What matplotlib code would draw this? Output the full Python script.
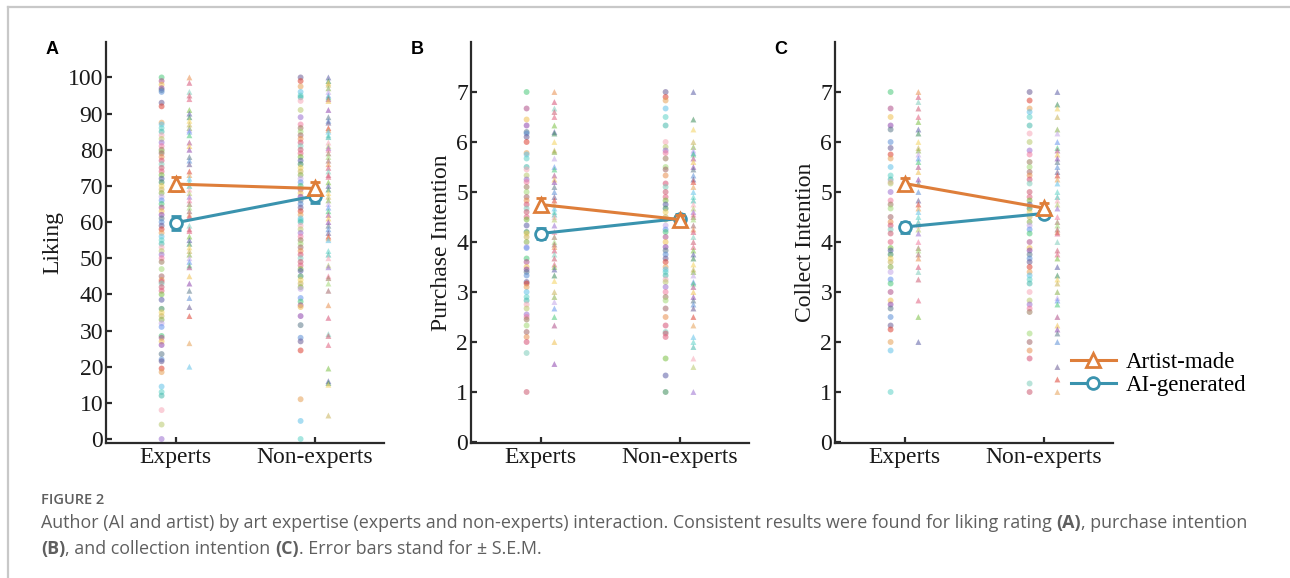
import matplotlib
matplotlib.use("Agg")
import matplotlib.pyplot as plt
from matplotlib.lines import Line2D

# ---- data ---------------------------------------------------------------
groups = ["Experts", "Non-experts"]

# panel A: liking (0-100)
liking_ai_exp = [100, 99, 98, 97, 96.5, 96, 93, 92, 87.5, 87, 86, 85, 84, 83, 82, 81, 80, 79.5,
                 79, 78, 77, 76, 75, 74, 73, 72, 71, 70, 69, 68, 67, 66, 65, 64, 63, 62, 61, 60,
                 59, 58, 57, 56, 55, 54, 53, 52, 51, 50, 49, 47, 45, 44, 43.5, 43, 42, 41, 40,
                 38.5, 36, 35, 34, 33, 32, 31, 28.5, 28, 27, 26, 23.5, 22, 21.5, 19.5, 18.5,
                 14.5, 13, 12, 8, 4, 0]
liking_art_exp = [100, 98.5, 96, 95, 94, 91, 90, 89, 88, 87, 86, 85.5, 85, 84, 82, 81, 80, 78,
                  77, 76, 74, 73, 72, 71, 70, 69, 68, 67, 66, 65, 64, 63, 62, 61.5, 59, 58, 57.5,
                  56, 55, 54, 53, 52, 51, 50, 49, 48, 47.5, 45, 43, 41, 39, 36.5, 34, 26.5, 20]
liking_ai_non = [100, 99, 97.5, 96, 95, 94.5, 93.5, 91, 89, 87, 86, 85, 84, 83, 82, 81, 80, 79,
                 78, 77, 76, 75, 74, 73, 72, 71, 70, 69, 68, 67, 66, 65, 64, 63, 62, 61, 60.5, 60,
                 59, 58, 57, 56, 55, 54, 53, 52, 51, 50, 49, 48, 47, 46.5, 45, 44, 43, 42, 41.5,
                 39, 38, 37, 36.5, 34, 31.5, 28, 27, 24.5, 11, 5, 0]
liking_art_non = [100, 99, 98.5, 98, 97, 96, 95, 94.5, 94, 93.5, 91, 89, 88, 87.5, 86, 85.5, 85,
                  84, 83.5, 82, 81, 80.5, 80, 79, 78, 77, 76, 75, 74, 73, 72.5, 71, 70, 69, 68,
                  67, 66, 65, 64, 63, 62, 61, 60, 59, 58, 57, 56, 55.5, 55, 52, 51, 50, 48, 47.5,
                  45, 44.5, 43, 41, 37, 33.5, 29, 28.5, 26, 19.5, 16, 15.5, 15, 6.5]

# panel B: purchase intention (1-7)
purch_ai_exp = [7, 6.67, 6.45, 6.33, 6.2, 6.17, 6.1, 6.0, 5.78, 5.75, 5.67, 5.5, 5.45, 5.33, 5.25,
                5.2, 5.1, 5.0, 4.9, 4.83, 4.75, 4.67, 4.6, 4.5, 4.45, 4.33, 4.2, 4.17, 4.1, 4.0,
                3.9, 3.88, 3.67, 3.6, 3.5, 3.45, 3.4, 3.33, 3.2, 3.17, 3.1, 3.0, 2.9, 2.83, 2.75,
                2.67, 2.55, 2.5, 2.45, 2.33, 2.2, 2.1, 2.0, 1.78, 1.0]
purch_art_exp = [7, 6.8, 6.67, 6.6, 6.5, 6.33, 6.2, 6.17, 6.0, 5.83, 5.8, 5.67, 5.5, 5.45, 5.33,
                 5.25, 5.2, 5.1, 5.0, 4.9, 4.83, 4.75, 4.67, 4.6, 4.55, 4.5, 4.45, 4.33, 4.2, 4.1,
                 4.0, 3.95, 3.9, 3.83, 3.75, 3.67, 3.55, 3.5, 3.45, 3.33, 3.22, 3.0, 2.9, 2.8,
                 2.67, 2.5, 2.33, 2.0, 1.56]
purch_ai_non = [7, 6.9, 6.83, 6.67, 6.5, 6.33, 6.0, 5.9, 5.83, 5.78, 5.67, 5.5, 5.45, 5.33, 5.17,
                5.1, 5.0, 4.9, 4.83, 4.75, 4.67, 4.6, 4.5, 4.45, 4.33, 4.25, 4.2, 4.1, 4.0, 3.9,
                3.83, 3.75, 3.67, 3.6, 3.5, 3.45, 3.4, 3.33, 3.25, 3.2, 3.1, 3.0, 2.9, 2.83, 2.67,
                2.5, 2.33, 2.2, 2.17, 2.1, 1.67, 1.33, 1.0]
purch_art_non = [7, 6.45, 6.25, 6.0, 5.9, 5.83, 5.78, 5.75, 5.67, 5.6, 5.5, 5.45, 5.33, 5.25, 5.2,
                 5.1, 5.0, 4.9, 4.83, 4.75, 4.67, 4.6, 4.55, 4.5, 4.45, 4.33, 4.25, 4.2, 4.1, 4.0,
                 3.9, 3.83, 3.75, 3.67, 3.55, 3.45, 3.4, 3.33, 3.2, 3.17, 3.1, 3.0, 2.9, 2.83,
                 2.75, 2.67, 2.5, 2.33, 2.1, 2.0, 1.9, 1.67, 1.5, 1.0]

# panel C: collect intention (1-7)
coll_ai_exp = [7, 6.67, 6.5, 6.33, 6.25, 6.0, 5.88, 5.75, 5.67, 5.5, 5.33, 5.25, 5.2, 5.17, 5.0,
               4.83, 4.75, 4.67, 4.5, 4.4, 4.33, 4.25, 4.17, 4.0, 3.88, 3.83, 3.75, 3.67, 3.6,
               3.5, 3.4, 3.25, 3.17, 3.0, 2.83, 2.75, 2.67, 2.5, 2.33, 2.25, 2.0, 1.83, 1.0]
coll_art_exp = [7, 6.9, 6.8, 6.67, 6.5, 6.4, 6.25, 6.17, 6.0, 5.88, 5.83, 5.75, 5.67, 5.6, 5.5,
                5.4, 5.25, 5.17, 5.0, 4.83, 4.75, 4.67, 4.6, 4.5, 4.4, 4.33, 4.25, 4.17, 4.0,
                3.88, 3.83, 3.75, 3.67, 3.5, 3.4, 3.25, 2.83, 2.5, 2.0]
coll_ai_non = [7, 6.83, 6.67, 6.6, 6.5, 6.33, 6.17, 6.0, 5.83, 5.75, 5.6, 5.5, 5.4, 5.33, 5.25,
               5.17, 5.0, 4.9, 4.83, 4.75, 4.67, 4.6, 4.5, 4.4, 4.33, 4.25, 4.17, 4.0, 3.88,
               3.83, 3.75, 3.67, 3.6, 3.5, 3.4, 3.33, 3.25, 3.17, 3.0, 2.83, 2.75, 2.67, 2.6,
               2.17, 2.0, 1.83, 1.67, 1.17, 1.0]
coll_art_non = [7, 6.75, 6.67, 6.5, 6.25, 6.17, 6.0, 5.88, 5.83, 5.75, 5.67, 5.6, 5.5, 5.4, 5.33,
                5.25, 5.17, 5.0, 4.9, 4.83, 4.75, 4.67, 4.5, 4.4, 4.33, 4.25, 4.2, 4.17, 4.0,
                3.83, 3.75, 3.67, 3.5, 3.33, 3.25, 3.17, 3.0, 2.88, 2.83, 2.75, 2.5, 2.33, 2.25,
                2.17, 2.0, 1.5, 1.25, 1.0]

# group means and S.E.M. (experts, non-experts)
liking_art_mean, liking_art_sem = [70.5, 69.3], [2.0, 1.8]
liking_ai_mean, liking_ai_sem = [59.8, 67.2], [2.0, 1.8]
purch_art_mean, purch_art_sem = [4.75, 4.45], [0.13, 0.10]
purch_ai_mean, purch_ai_sem = [4.17, 4.47], [0.11, 0.10]
coll_art_mean, coll_art_sem = [5.17, 4.68], [0.12, 0.10]
coll_ai_mean, coll_ai_sem = [4.30, 4.57], [0.11, 0.10]

panel_letters = ["A", "B", "C"]
ylabels = ["Liking", "Purchase Intention", "Collect Intention"]
series_labels = ["Artist-made", "AI-generated"]

# ---- style ---------------------------------------------------------------
ORANGE = "#DE7E3A"
TEAL = "#3A93AE"
AXCOL = "#2b2b2b"
SERIF = "Liberation Serif"

dot_colors = ["#4cc97a", "#e0607e", "#9b6fd0", "#5b8fd6", "#c9b35a", "#e98f4e", "#5fd3c8",
              "#b04f8a", "#7bc043", "#f27ba0", "#6b5b95", "#88b04b", "#d65076", "#45b8ac",
              "#efc050", "#5b5ea6", "#9c7a5b", "#dd4132", "#c3a6e8", "#7fcdbb", "#f7a8b8",
              "#8e44ad", "#3c8d5a", "#a3d977", "#e6a157", "#6495ed", "#cc5a71", "#b8c96d",
              "#5d7a8c", "#f4d35e", "#a26769", "#62c2e8"]

fig = plt.figure(figsize=(12.9, 5.78), dpi=100)
W, H = 1290, 578

# frame lines of the journal figure box
fig.add_artist(Line2D([8 / W, 1], [1 - 7 / H, 1 - 7 / H], color="#c8c8c8", lw=1.6))
fig.add_artist(Line2D([8 / W, 8 / W], [0, 1 - 7 / H], color="#c8c8c8", lw=1.6))

lefts = [106, 471, 835]
panels = [
    (liking_ai_exp, liking_art_exp, liking_ai_non, liking_art_non,
     liking_art_mean, liking_art_sem, liking_ai_mean, liking_ai_sem),
    (purch_ai_exp, purch_art_exp, purch_ai_non, purch_art_non,
     purch_art_mean, purch_art_sem, purch_ai_mean, purch_ai_sem),
    (coll_ai_exp, coll_art_exp, coll_ai_non, coll_art_non,
     coll_art_mean, coll_art_sem, coll_ai_mean, coll_ai_sem),
]

xpos = [1, 2]
off = 0.1
for i, (left, data) in enumerate(zip(lefts, panels)):
    ai_e, art_e, ai_n, art_n, art_m, art_s, ai_m, ai_s = data
    ax = fig.add_axes([left / W, (H - 443) / H, 278 / W, 401 / H])

    cols = [(ai_e, xpos[0] - off, "o"), (art_e, xpos[0] + off, "^"),
            (ai_n, xpos[1] - off, "o"), (art_n, xpos[1] + off, "^")]
    for k, (vals, xc, mk) in enumerate(cols):
        c = [dot_colors[(j * 7 + k * 5) % len(dot_colors)] for j in range(len(vals))]
        ax.scatter([xc] * len(vals), vals, s=18, marker=mk, c=c, alpha=0.55,
                   linewidths=0, zorder=2)

    ax.errorbar(xpos, ai_m, yerr=ai_s, color=TEAL, lw=2.2, marker="o", ms=8.5,
                mfc="white", mec=TEAL, mew=2.0, capsize=3.5, capthick=2.0,
                elinewidth=2.0, zorder=4)
    ax.errorbar(xpos, art_m, yerr=art_s, color=ORANGE, lw=2.2, marker="^", ms=9.5,
                mfc="white", mec=ORANGE, mew=2.0, capsize=3.5, capthick=2.0,
                elinewidth=2.0, zorder=5)

    ax.set_xlim(0.5, 2.5)
    if i == 0:
        ax.set_ylim(-1.1, 109.8)
        ax.set_yticks(range(0, 101, 10))
    else:
        ax.set_ylim(-0.02, 8.0)
        ax.set_yticks(range(0, 8))
    ax.set_xticks(xpos)
    ax.set_xticklabels(groups)

    for side in ["top", "right"]:
        ax.spines[side].set_visible(False)
    for side in ["left", "bottom"]:
        ax.spines[side].set_color(AXCOL)
        ax.spines[side].set_linewidth(1.6)
    ax.tick_params(direction="in", length=4, width=1.6, color=AXCOL, labelsize=17,
                   labelcolor="#1a1a1a")
    ax.tick_params(axis="y", pad=2)
    ax.tick_params(axis="x", pad=3)
    for lab in ax.get_xticklabels() + ax.get_yticklabels():
        lab.set_family(SERIF)
    ax.set_ylabel(ylabels[i], family=SERIF, fontsize=17, color="#1a1a1a", labelpad=3)

    fig.text((left - 54) / W, 1 - 50 / H, panel_letters[i], fontsize=13, weight="bold",
             family="Liberation Sans", ha="center", va="center", color="black")

handles = [Line2D([], [], color=ORANGE, lw=2.2, marker="^", ms=9.5, mfc="white",
                  mec=ORANGE, mew=2.0),
           Line2D([], [], color=TEAL, lw=2.2, marker="o", ms=8.5, mfc="white",
                  mec=TEAL, mew=2.0)]
fig.legend(handles, series_labels, loc="center left",
           bbox_to_anchor=(1071 / W, 1 - 374 / H), frameon=False, handlelength=1.95,
           handletextpad=0.45, labelspacing=0.12, borderpad=0, borderaxespad=0,
           prop={"family": SERIF, "size": 16.5})

# ---- caption -------------------------------------------------------------
CAP = "#5f5f5f"
fig.text(41 / W, 1 - 500 / H, "FIGURE 2", fontsize=10.5, weight="semibold",
         family="Open Sans", color=CAP, va="center")

renderer = fig.canvas.get_renderer()


def draw_runs(x_px, y_px, runs):
    x = x_px
    for txt, bold in runs:
        t = fig.text(x / W, 1 - y_px / H, txt, fontsize=12.9, family="Open Sans",
                     weight="bold" if bold else "normal", color=CAP, va="center")
        x += t.get_window_extent(renderer).width


draw_runs(41, 523, [("Author (AI and artist) by art expertise (experts and non-experts) interaction. "
                     "Consistent results were found for liking rating ", False),
                    ("(A)", True), (", purchase intention", False)])
draw_runs(41, 549, [("(B)", True), (", and collection intention ", False), ("(C)", True),
                    (". Error bars stand for \u00b1 S.E.M.", False)])

fig.savefig("out.png", dpi=100)
